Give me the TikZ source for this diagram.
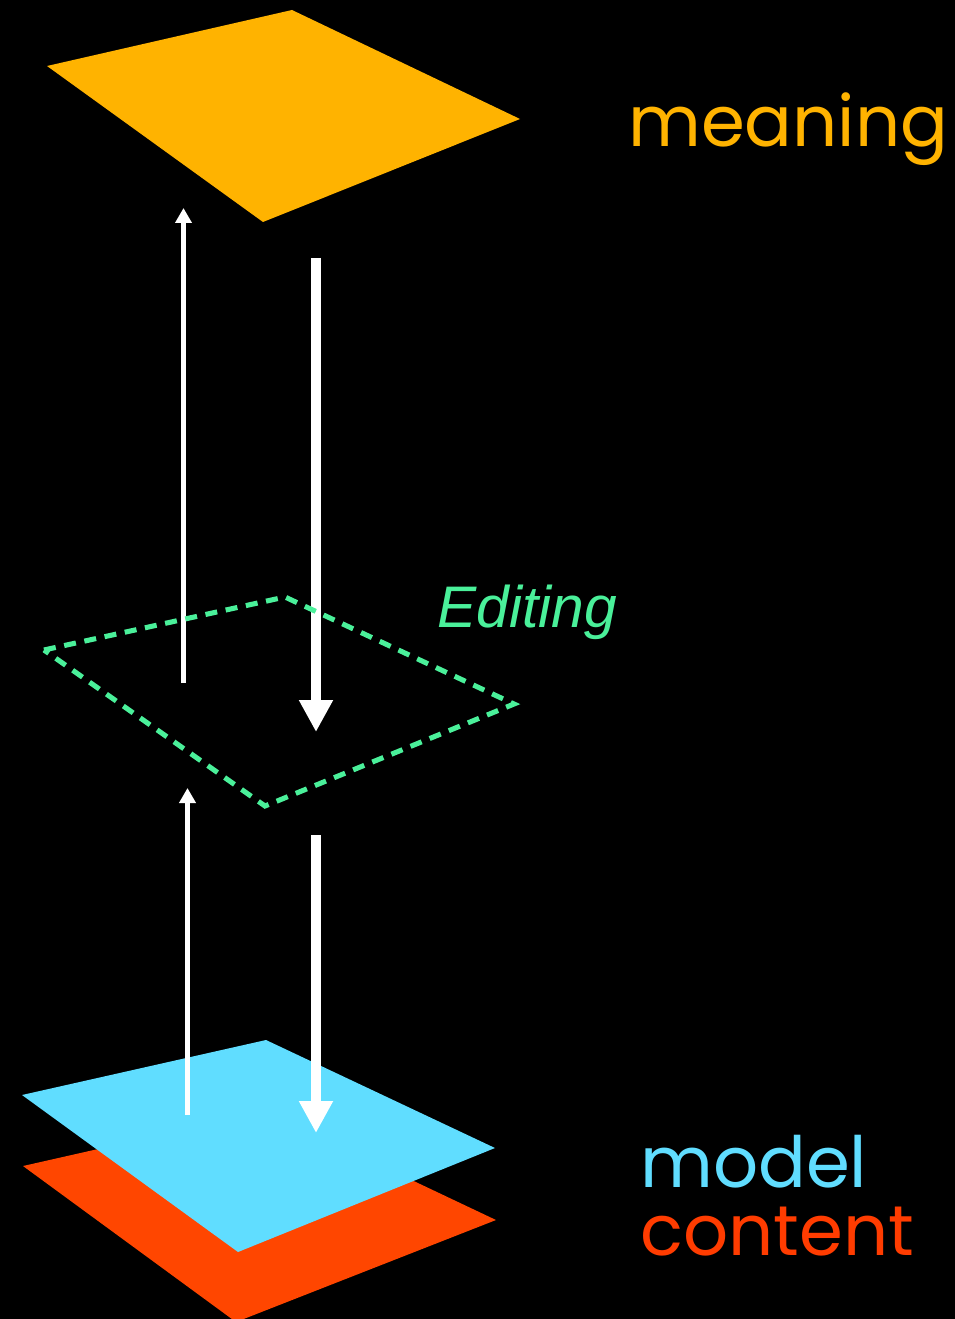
\documentclass[tikz,border=0pt]{standalone}
\usepackage{fontspec}
\setmainfont{Poppins}
\newfontfamily\editfont{Liberation Sans}
\usetikzlibrary{arrows.meta}
\definecolor{cOrange}{HTML}{FFB300}
\definecolor{cCyan}{HTML}{60DDFF}
\definecolor{cRed}{HTML}{FF4600}
\definecolor{cRedText}{HTML}{FF3C00}
\definecolor{cGreen}{HTML}{4AF09A}
\tikzset{
  plane/.style={fill=#1, draw=none},
  dashplane/.style={draw=cGreen, line width=3.8pt, dash pattern=on 9pt off 6.5pt, line join=miter},
  thinarrow/.style={draw=white, line width=3.4pt, -{Triangle[length=11.25pt,width=12pt]}},
  thickarrow/.style={draw=white, line width=7.5pt, -{Triangle[length=24pt,width=24pt]}},
  label/.style={inner sep=0pt, anchor=base west, font=\fontsize{53}{60}\selectfont},
}
\begin{document}
\begin{tikzpicture}[x=0.75pt,y=-0.75pt]
\fill[black] (0,0) rectangle (955,1319);
\useasboundingbox (0,0) rectangle (955,1319);
% meaning plane
\coordinate (mL) at (47,66);
\coordinate (mT) at (292,10);
\coordinate (mR) at (520,119);
\coordinate (mB) at (263,222);
\fill[plane=cOrange] (mL) -- (mT) -- (mR) -- (mB) -- cycle;
% content plane
\coordinate (cL) at (23,1166);
\coordinate (cT) at (266,1111);
\coordinate (cR) at (496,1220);
\coordinate (cB) at (236,1322);
\fill[plane=cRed] (cL) -- (cT) -- (cR) -- (cB) -- cycle;
% model plane
\coordinate (oL) at (22,1095);
\coordinate (oT) at (266,1040);
\coordinate (oR) at (495,1148);
\coordinate (oB) at (238,1252);
\fill[plane=cCyan] (oL) -- (oT) -- (oR) -- (oB) -- cycle;
% arrows
\coordinate (a1s) at (183.5,683);
\coordinate (a1e) at (183.5,208);
\coordinate (a2s) at (316,258);
\coordinate (a2e) at (316,732);
\coordinate (a3s) at (187.5,1115);
\coordinate (a3e) at (187.5,788);
\coordinate (a4s) at (316,835);
\coordinate (a4e) at (316,1133);
\draw[thinarrow] (a1s) -- (a1e);
\draw[thickarrow] (a2s) -- (a2e);
\draw[thinarrow] (a3s) -- (a3e);
\draw[thickarrow] (a4s) -- (a4e);
% editing plane
\coordinate (eL) at (44,650);
\coordinate (eT) at (285,597);
\coordinate (eR) at (514,704);
\coordinate (eB) at (265,806);
\draw[dashplane] (eL) -- (eT) -- (eR) -- (eB) -- cycle;
% labels
\node[label, text=cOrange] (meaning) at (628,147) {meaning};
\node[label, text=cCyan] (model) at (640,1187) {model};
\node[label, text=cRedText] (content) at (640,1255) {content};
\node[inner sep=0pt, anchor=base west, text=cGreen, font=\editfont\itshape\fontsize{44}{50}\selectfont] (editing) at (437,627) {Editing};
\end{tikzpicture}
\end{document}
